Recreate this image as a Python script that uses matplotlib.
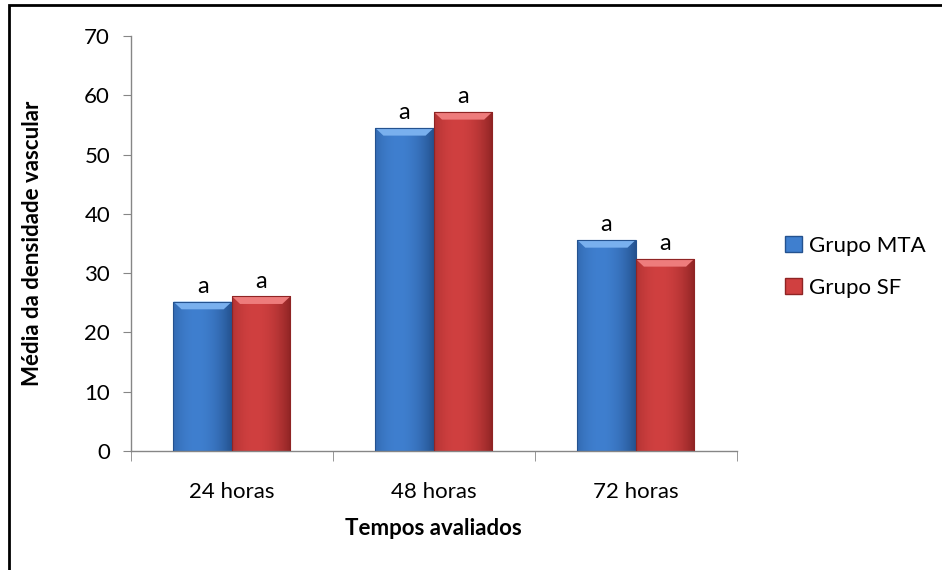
import numpy as np
import matplotlib
matplotlib.use("Agg")
import matplotlib.pyplot as plt
from matplotlib.patches import Rectangle, Polygon, Patch

plt.rcParams['font.family'] = ['Lato', 'DejaVu Sans']

categories = ["24 horas", "48 horas", "72 horas"]
grupo_mta = [25.2, 54.5, 35.6]
grupo_sf = [26.1, 57.2, 32.4]
letters_mta = ["a", "a", "a"]
letters_sf = ["a", "a", "a"]
series_names = ["Grupo MTA", "Grupo SF"]

# base, dark edge, light bevel
blue = ("#3f7fcf", "#24528f", "#79b0ee")
red = ("#d04040", "#8f2424", "#ee7c7c")


def shade_bar(ax, patch, colors):
    """Fill a bar with a horizontal gradient and a lighter bevel at the top."""
    base, dark, light = colors
    x0, w, h = patch.get_x(), patch.get_width(), patch.get_height()
    c_base = np.array(matplotlib.colors.to_rgb(base))
    c_dark = np.array(matplotlib.colors.to_rgb(dark))
    t = np.linspace(0, 1, 64)
    # darker towards the edges, brightest left of centre
    k = np.clip(np.abs(t - 0.4) / 0.6, 0, 1) ** 2
    row = c_base[None, :] * (1 - k[:, None]) + c_dark[None, :] * k[:, None]
    img = np.repeat(row[None, :, :], 2, axis=0)
    im = ax.imshow(img, extent=(x0, x0 + w, 0, h), aspect='auto',
                   interpolation='bilinear', zorder=2)
    im.set_clip_path(patch)
    dy = 1.3
    dx = w * 0.14
    bevel = Polygon([(x0, h), (x0 + w, h), (x0 + w - dx, h - dy), (x0 + dx, h - dy)],
                    closed=True, facecolor=light, edgecolor='none', zorder=3)
    ax.add_patch(bevel)


fig = plt.figure(figsize=(9.42, 5.70), dpi=100)
ax = fig.add_axes([0.139, 0.2088, 0.643, 0.728])

# chart border
fig.patches.append(Rectangle((9 / 942, 0 - 0.01), 1.0, (565 / 570) + 0.01,
                             transform=fig.transFigure, fill=False,
                             edgecolor='black', linewidth=2.0))

x = np.arange(len(categories))
width = 0.29
bars_mta = ax.bar(x - width / 2, grupo_mta, width, color=blue[0],
                  edgecolor=blue[1], linewidth=0.8, zorder=1)
bars_sf = ax.bar(x + width / 2, grupo_sf, width, color=red[0],
                 edgecolor=red[1], linewidth=0.8, zorder=1)

for bars, colors in ((bars_mta, blue), (bars_sf, red)):
    for b in bars:
        shade_bar(ax, b, colors)
        b.set_facecolor('none')
        b.set_zorder(4)

for bars, letters in ((bars_mta, letters_mta), (bars_sf, letters_sf)):
    for b, txt in zip(bars, letters):
        ax.text(b.get_x() + b.get_width() / 2, b.get_height() + 0.8, txt,
                ha='center', va='bottom', fontsize=17)

ax.set_xlim(-0.5, 2.5)
ax.set_ylim(0, 70)
ax.set_yticks(np.arange(0, 71, 10))
ax.set_xticks(x)
ax.set_xticklabels(categories)
ax.set_xticks([-0.5, 0.5, 1.5, 2.5], minor=True)

for side in ('top', 'right'):
    ax.spines[side].set_visible(False)
for side in ('left', 'bottom'):
    ax.spines[side].set_color('#868686')
    ax.spines[side].set_linewidth(1.0)

ax.tick_params(axis='y', direction='out', length=6, color='#868686',
               labelsize=16, pad=9)
ax.tick_params(axis='x', which='major', length=0, labelsize=16, pad=22)
ax.tick_params(axis='x', which='minor', direction='out', length=7,
               color='#868686')

ax.set_ylabel("Média da densidade vascular", fontsize=16, fontweight='bold',
              labelpad=30)
ax.set_xlabel("Tempos avaliados", fontsize=16, fontweight='bold', labelpad=12)

handles = [Patch(facecolor=blue[0], edgecolor=blue[1]),
           Patch(facecolor=red[0], edgecolor=red[1])]
fig.legend(handles, series_names, loc='center left',
           bbox_to_anchor=(0.812, 0.532), frameon=False, fontsize=16,
           handlelength=0.75, handleheight=0.75, handletextpad=0.35,
           labelspacing=1.0)

fig.savefig("out.png", dpi=100)
